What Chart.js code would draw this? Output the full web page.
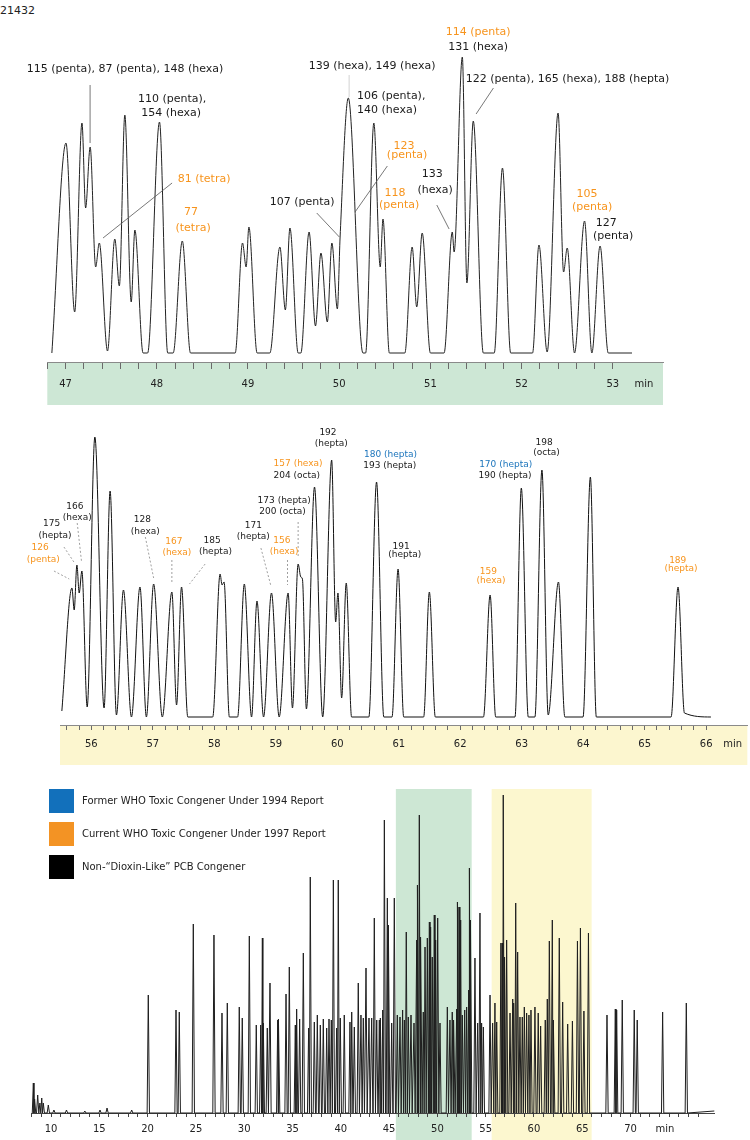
<!DOCTYPE html>
<html>
<head>
<meta charset="utf-8">
<script src="https://cdn.jsdelivr.net/npm/chart.js@4/dist/chart.umd.min.js"></script>
<style>
  body { margin: 0; width: 750px; height: 1140px; position: relative; background: #fff; font-family: 'DejaVu Sans', sans-serif; overflow: hidden; }
  canvas { position: absolute; left: 0; }
  #sampleId { position: absolute; left: 0; top: 4px; font-size: 11px; color: #222; }
  .key { position: absolute; left: 49px; width: 25px; height: 24px; }
  .keyText { position: absolute; left: 82px; font-size: 10px; color: #222; line-height: 24px; }
</style>
</head>
<body>
<div id="sampleId">21432</div>
<canvas id="zoomA" width="750" height="410" style="top:0"></canvas>
<canvas id="zoomB" width="750" height="350" style="top:420px"></canvas>
<canvas id="overview" width="750" height="360" style="top:780px"></canvas>

<div class="key" style="top:789px;background:#1270bb"></div>
<div class="keyText" style="top:789px">Former WHO Toxic Congener Under 1994 Report</div>
<div class="key" style="top:822px;background:#f39324"></div>
<div class="keyText" style="top:822px">Current WHO Toxic Congener Under 1997 Report</div>
<div class="key" style="top:855px;background:#000"></div>
<div class="keyText" style="top:855px">Non-“Dioxin-Like” PCB Congener</div>

<script>
// ---------- panel A : 47 - 53 min (apex / valley / baseline points) ----------
const aTimes = [46.85, 47.005, 47.10, 47.18, 47.22, 47.27, 47.33, 47.37, 47.46, 47.54, 47.59, 47.65, 47.72, 47.76, 47.85, 47.90,
  48.03, 48.12, 48.18, 48.28, 48.37, 48.86, 48.94, 48.98, 49.01, 49.10, 49.24, 49.35, 49.41, 49.46, 49.55, 49.58,
  49.67, 49.74, 49.80, 49.87, 49.92, 49.98, 50.01, 50.10, 50.26, 50.29, 50.38, 50.45, 50.48, 50.55, 50.72, 50.80,
  50.85, 50.91, 51.00, 51.15, 51.24, 51.26, 51.35, 51.40, 51.47, 51.58, 51.70, 51.79, 51.88, 52.12, 52.19, 52.28,
  52.40, 52.46, 52.50, 52.58, 52.69, 52.77, 52.86, 52.95, 53.21];
const aSignal = [0, 210, 41, 230, 145, 206, 86, 110, 2, 114, 67, 238, 51, 123, 0, 0,
  231, 0, 0, 112, 0, 0, 110, 86, 126, 0, 0, 106, 43, 125, 0, 0,
  121, 27, 100, 31, 110, 44, 116, 255, 0, 0, 230, 86, 134, 0, 0, 106,
  46, 120, 0, 0, 121, 101, 296, 70, 232, 0, 0, 185, 0, 0, 108, 1,
  240, 81, 105, 0, 132, 0, 107, 0, 0];
const aMajorTicks = [47, 48, 49, 50, 51, 52, 53];

// [time, level, text, colour, align]
const aLabels = [
  [47.652, 284, '115 (penta), 87 (penta), 148 (hexa)', 'k'],
  [48.168, 254, '110 (penta),', 'k'],
  [48.157, 240, '154 (hexa)', 'k'],
  [48.519, 174, '81 (tetra)', 'o'],
  [48.376, 141, '77', 'o'],
  [48.398, 125, '(tetra)', 'o'],
  [49.593, 151, '107 (penta)', 'k'],
  [50.361, 287, '139 (hexa), 149 (hexa)', 'k'],
  [50.196, 257, '106 (penta),', 'k', 'left'],
  [50.196, 243, '140 (hexa)', 'k', 'left'],
  [50.711, 207, '123', 'o'],
  [50.744, 198, '(penta)', 'o'],
  [50.613, 160, '118', 'o'],
  [50.657, 148, '(penta)', 'o'],
  [51.019, 179, '133', 'k'],
  [51.052, 163, '(hexa)', 'k'],
  [51.523, 321, '114 (penta)', 'o'],
  [51.523, 306, '131 (hexa)', 'k'],
  [51.388, 274, '122 (penta), 165 (hexa), 188 (hepta)', 'k', 'left'],
  [52.718, 159, '105', 'o'],
  [52.773, 146, '(penta)', 'o'],
  [52.927, 130, '127', 'k'],
  [53.003, 117, '(penta)', 'k']
];
const aLeaders = [
  [47.269, 268, 47.269, 210],
  [48.168, 170, 47.411, 115],
  [49.754, 140, 50.002, 116],
  [50.109, 278, 50.109, 256, true],
  [50.528, 187, 50.174, 141],
  [51.070, 148, 51.205, 124],
  [51.691, 265, 51.501, 239]
];

// ---------- panel B : 56 - 66 min ----------
const bTimes = [55.52, 55.684, 55.721, 55.765, 55.802, 55.846, 55.932, 56.057, 56.207, 56.305, 56.408, 56.522, 56.652,
  56.791, 56.895, 57.013, 57.154, 57.310, 57.386, 57.467, 57.569, 57.974, 58.094, 58.126, 58.159, 58.245, 58.379,
  58.488, 58.606, 58.694, 58.801, 58.930, 59.055, 59.201, 59.271, 59.363, 59.407, 59.433, 59.498, 59.630, 59.763,
  59.909, 59.974, 60.011, 60.071, 60.146, 60.233, 60.514, 60.639, 60.757, 60.891, 60.989, 61.081, 61.405, 61.498,
  61.595, 62.378, 62.486, 62.577, 62.891, 62.994, 63.107, 63.215, 63.329, 63.431, 63.598, 63.702, 63.998, 64.117,
  64.214, 65.430, 65.543, 65.647, 66.078];
const bSignal = [6, 129, 107, 152, 124, 146, 10, 280, 9, 226, 2, 127, 0,
  130, 0, 133, 0, 125, 12, 130, 0, 0, 143, 132, 135, 0, 0,
  133, 0, 116, 0, 124, 0, 124, 9, 153, 140, 138, 8, 230, 0,
  257, 95, 124, 19, 134, 0, 0, 235, 0, 0, 148, 0, 0, 125,
  0, 0, 122, 0, 0, 229, 0, 0, 247, 2, 135, 0, 0, 240,
  0, 0, 130, 4, 0];
const bMajorTicks = [56, 57, 58, 59, 60, 61, 62, 63, 64, 65, 66];

const bLabels = [
  [55.165, 169, '126', 'o'], [55.219, 157, '(penta)', 'o'],
  [55.355, 193, '175', 'k'], [55.408, 181, '(hepta)', 'k'],
  [55.733, 210, '166', 'k'], [55.770, 199, '(hexa)', 'k'],
  [56.830, 197, '128', 'k'], [56.878, 185, '(hexa)', 'k'],
  [57.342, 175, '167', 'o'], [57.391, 164, '(hexa)', 'o'],
  [57.964, 176, '185', 'k'], [58.018, 165, '(hepta)', 'k'],
  [58.634, 191, '171', 'k'], [58.634, 180, '(hepta)', 'k'],
  [59.099, 176, '156', 'o'], [59.136, 165, '(hexa)', 'o'],
  [59.136, 216, '173 (hepta)', 'k'], [59.109, 205, '200 (octa)', 'k'],
  [59.363, 253, '157 (hexa)', 'o'], [59.342, 241, '204 (octa)', 'k'],
  [59.849, 284, '192', 'k'], [59.903, 273, '(hepta)', 'k'],
  [60.866, 262, '180 (hepta)', 'b'], [60.854, 251, '193 (hepta)', 'k'],
  [61.037, 170, '191', 'k'], [61.097, 162, '(hepta)', 'k'],
  [62.459, 145, '159', 'o'], [62.502, 136, '(hexa)', 'o'],
  [62.739, 252, '170 (hepta)', 'b'], [62.729, 241, '190 (hepta)', 'k'],
  [63.366, 274, '198', 'k'], [63.404, 264, '(octa)', 'k'],
  [65.538, 156, '189', 'o'], [65.591, 148, '(hepta)', 'o']
];
const bLeaders = [
  [55.392, 146, 55.640, 138],
  [55.554, 170, 55.716, 155],
  [55.770, 194, 55.841, 155],
  [56.878, 180, 57.013, 139],
  [57.310, 157, 57.310, 133],
  [57.851, 153, 57.596, 133],
  [58.758, 169, 58.921, 131],
  [59.190, 157, 59.190, 132],
  [59.363, 195, 59.363, 160]
];

// ---------- overview : whole run, one entry per peak ----------
const ovPeakTimes = [8.17, 8.30, 8.62, 8.85, 9.04, 9.20, 9.72, 10.3, 11.6, 13.5, 15.07, 15.8, 18.35,
  20.07, 22.94, 23.28, 24.73, 26.87, 27.70, 28.25, 29.49, 29.80, 30.53, 31.25, 31.71, 31.88, 31.98, 32.39, 32.67,
  33.47, 33.57, 34.33, 34.67, 35.29, 35.43, 35.74, 36.12, 36.67, 36.84, 37.26, 37.57, 37.88, 38.19, 38.54, 38.78,
  39.02, 39.23, 39.57, 39.74, 39.95, 40.36, 40.95, 41.13, 41.40, 41.81, 42.09, 42.33, 42.61, 42.92, 43.20, 43.47,
  43.72, 43.99, 44.13, 44.34, 44.51, 44.82, 44.96, 45.27, 45.54, 45.85, 46.13, 46.40, 46.58, 46.78, 46.99, 47.27,
  47.58, 47.86, 47.96, 48.13, 48.30, 48.54, 48.72, 48.96, 49.17, 49.30, 49.47, 49.68, 49.82, 50.03, 50.27, 51.03,
  51.30, 51.54, 51.72, 52.00, 52.10, 52.24, 52.41, 52.58, 52.83, 53.03, 53.24, 53.34, 53.45, 53.89, 54.17, 54.41,
  54.58, 54.76, 55.45, 55.72, 55.96, 56.14, 56.58, 56.72, 56.82, 57.00, 57.17, 57.52, 57.80, 57.93, 58.11, 58.31,
  58.55, 58.79, 59.00, 59.24, 59.48, 59.69, 60.10, 60.44, 60.69, 61.17, 61.38, 61.59, 61.90, 62.04, 62.62, 62.97,
  63.49, 63.98, 64.50, 64.81, 65.17, 65.64, 67.56, 68.42, 68.56, 69.14, 70.38, 70.69, 73.32, 75.77];
const ovPeakHeights = [30, 14, 18, 10, 15, 10, 8, 3, 3, 2, 3, 5, 3,
  118, 103, 101, 189, 178, 100, 110, 106, 95, 177, 88, 88, 175, 90, 85, 130,
  93, 94, 119, 146, 88, 104, 94, 160, 85, 236, 91, 98, 88, 94, 85, 94,
  93, 233, 85, 233, 95, 98, 91, 101, 86, 130, 98, 95, 145, 95, 95, 195,
  93, 93, 95, 103, 293, 215, 188, 90, 215, 98, 96, 103, 93, 181, 96, 98,
  90, 173, 228, 298, 176, 101, 166, 175, 191, 186, 156, 198, 173, 195, 90, 106,
  93, 101, 93, 104, 211, 206, 193, 98, 103, 106, 123, 245, 193, 155, 90, 200,
  90, 86, 118, 90, 110, 91, 170, 170, 318, 156, 173, 100, 114, 110, 210, 161,
  96, 96, 106, 100, 98, 103, 106, 100, 87, 93, 114, 172, 193, 93, 175, 111,
  89, 92, 172, 185, 102, 180, 98, 104, 103, 113, 103, 93, 101, 110];
const ovRun = [8.06, 78.67];
const ovMajorTicks = [10, 15, 20, 25, 30, 35, 40, 45, 50, 55, 60, 65, 70];
const ovWindows = [[45.7, 53.55], [55.62, 65.97]];   // the two zoomed windows above

// ---------------------------------------------------------------------------
const inkColours = { k: '#1a1a1a', o: '#f7941d', b: '#1c75bc' };
Chart.defaults.font.family = "'DejaVu Sans', sans-serif";
Chart.defaults.color = '#222';

function zip(times, values) {
    return times.map((t, i) => ({ x: t, y: values[i] }));
}

// each peak becomes baseline - apex - baseline
function spikes(times, heights, run, halfWidth) {
    const pts = [{ x: run[0], y: 0 }];
    times.forEach((t, i) => {
        const left = i > 0 ? (t - times[i - 1]) / 2 : halfWidth;
        const right = i < times.length - 1 ? (times[i + 1] - t) / 2 : halfWidth;
        pts.push({ x: t - Math.min(halfWidth, left), y: 0 });
        pts.push({ x: t, y: heights[i] });
        pts.push({ x: t + Math.min(halfWidth, right), y: 0 });
    });
    pts.push({ x: run[1], y: 2 });
    return pts;
}

function tickList(from, to, step) {
    const out = [];
    for (let v = from; v <= to + 1e-6; v += step) out.push(Math.round(v * 100) / 100);
    return out;
}

// coloured strips: under the axis for the zooms, full height windows on the overview
const stripPlugin = {
    id: 'strips',
    beforeDraw(chart, args, opts) {
        const { ctx, chartArea, scales } = chart;
        ctx.save();
        (opts.items || []).forEach(s => {
            const x1 = scales.x.getPixelForValue(s.from);
            const x2 = scales.x.getPixelForValue(s.to);
            const top = s.under ? chartArea.bottom : chartArea.top - 1;
            const bottom = s.under ? chartArea.bottom + s.depth : chart.height;
            ctx.fillStyle = s.color;
            ctx.fillRect(x1, top, x2 - x1, bottom - top);
        });
        ctx.restore();
    }
};

// congener names and their leader lines
const notePlugin = {
    id: 'notes',
    afterDatasetsDraw(chart, args, opts) {
        if (!opts.labels) return;
        const { ctx, scales: { x, y } } = chart;
        ctx.save();
        (opts.leaders || []).forEach(([t1, v1, t2, v2, faint]) => {
            ctx.beginPath();
            ctx.strokeStyle = faint ? '#c8c8c8' : opts.leaderColor;
            ctx.lineWidth = 0.8;
            ctx.setLineDash(opts.dash || []);
            ctx.moveTo(x.getPixelForValue(t1), y.getPixelForValue(v1));
            ctx.lineTo(x.getPixelForValue(t2), y.getPixelForValue(v2));
            ctx.stroke();
        });
        ctx.setLineDash([]);
        ctx.font = opts.font;
        ctx.textBaseline = 'middle';
        opts.labels.forEach(([t, v, text, c, align]) => {
            ctx.fillStyle = inkColours[c];
            ctx.textAlign = align || 'center';
            ctx.fillText(text, x.getPixelForValue(t), y.getPixelForValue(v));
        });
        ctx.restore();
    }
};

function xAxis(cfg) {
    const ticks = tickList(cfg.firstTick, cfg.lastTick, cfg.step).concat([cfg.unitAt]);
    return {
        type: 'linear',
        min: cfg.min,
        max: cfg.max,
        afterBuildTicks: scale => { scale.ticks = ticks.map(v => ({ value: v })); },
        afterFit: scale => { scale.height = cfg.height; },
        border: { display: true, color: cfg.lineColor, width: 1 },
        grid: {
            drawOnChartArea: false,
            drawTicks: true,
            tickLength: cfg.tickLength,
            tickColor: c => (c.tick && c.tick.value === cfg.unitAt) ? 'rgba(0,0,0,0)' : cfg.tickColor
        },
        ticks: {
            autoSkip: false,
            maxRotation: 0,
            padding: cfg.labelPad,
            font: { size: 10 },
            color: '#222',
            callback: v => v === cfg.unitAt ? 'min' : (cfg.labels.includes(v) ? String(v) : '')
        }
    };
}

function makeChart(id, points, opts) {
    return new Chart(document.getElementById(id), {
        type: 'line',
        data: {
            datasets: [{
                data: points,
                borderColor: opts.lineColor,
                borderWidth: 1,
                pointRadius: 0,
                cubicInterpolationMode: opts.smooth ? 'monotone' : 'default',
                tension: 0,
                fill: false,
                clip: false
            }]
        },
        options: {
            responsive: false,
            animation: false,
            events: [],
            layout: { padding: opts.padding },
            plugins: {
                legend: { display: false },
                tooltip: { enabled: false },
                strips: { items: opts.strips },
                notes: opts.notes
            },
            scales: {
                x: xAxis(opts.axis),
                y: { type: 'linear', display: false, min: opts.yRange[0], max: opts.yRange[1] }
            }
        },
        plugins: [stripPlugin, notePlugin]
    });
}

makeChart('zoomA', zip(aTimes, aSignal), {
    lineColor: '#222',
    smooth: true,
    padding: { left: 47.3, right: 87, top: 50, bottom: 5 },
    yRange: [-9, 303],
    strips: [{ from: 46.8, to: 53.55, under: true, depth: 43, color: '#cde7d5' }],
    notes: { labels: aLabels, leaders: aLeaders, leaderColor: '#555', font: "11px 'DejaVu Sans'" },
    axis: { min: 46.8, max: 53.55, firstTick: 46.8, lastTick: 53.0, step: 0.2, labels: aMajorTicks,
            unitAt: 53.34, height: 43, tickLength: 7, labelPad: 9, lineColor: '#8a8a8a', tickColor: '#6a6a6a' }
});

makeChart('zoomB', zip(bTimes, bSignal), {
    lineColor: '#111',
    smooth: true,
    padding: { left: 60, right: 0, top: 10, bottom: 5 },
    yRange: [-8, 287],
    strips: [{ from: 55.49, to: 66.67, under: true, depth: 40, color: '#fcf6cf' }],
    notes: { labels: bLabels, leaders: bLeaders, leaderColor: '#888', dash: [2, 2], font: "9px 'DejaVu Sans'" },
    axis: { min: 55.49, max: 66.67, firstTick: 55.6, lastTick: 66.0, step: 0.2, labels: bMajorTicks,
            unitAt: 66.43, height: 40, tickLength: 5, labelPad: 8, lineColor: '#8a8a8a', tickColor: '#6a6a6a' }
});

makeChart('overview', spikes(ovPeakTimes, ovPeakHeights, ovRun, 0.12), {
    lineColor: '#1e1e1e',
    smooth: false,
    padding: { left: 31.7, right: 35.4, top: 10, bottom: 0 },
    yRange: [0, 323],
    strips: [
        { from: ovWindows[0][0], to: ovWindows[0][1], color: '#cde7d4' },
        { from: ovWindows[1][0], to: ovWindows[1][1], color: '#fcf7cf' }
    ],
    notes: {},
    axis: { min: 8, max: 78.7, firstTick: 8, lastTick: 77, step: 1, labels: ovMajorTicks,
            unitAt: 73.56, height: 27, tickLength: 4, labelPad: 6, lineColor: '#444', tickColor: '#444' }
});
</script>
</body>
</html>
